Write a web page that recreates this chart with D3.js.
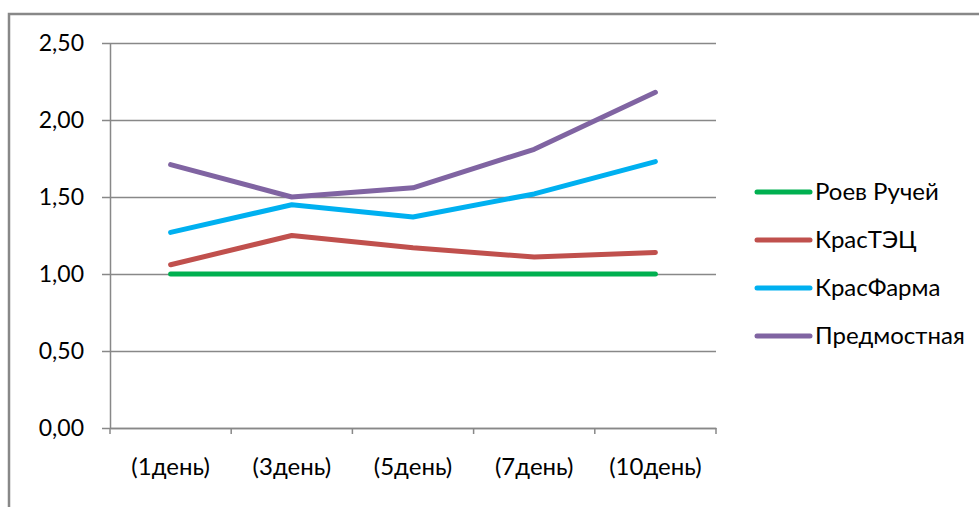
<!DOCTYPE html>
<html><head><meta charset="utf-8">
<script src="https://cdn.jsdelivr.net/npm/d3@7"></script>
<style>body{margin:0;background:#fff;} svg{display:block;font-family:Lato,sans-serif;}</style>
</head><body><svg id="c" width="979" height="507"></svg>
<script>
const categories = ["(1день)","(3день)","(5день)","(7день)","(10день)"];
const seriesNames = ["Роев Ручей","КрасТЭЦ","КрасФарма","Предмостная"];
const roev = [1.00,1.00,1.00,1.00,1.00];
const krasTEC = [1.06,1.25,1.17,1.11,1.14];
const krasFarma = [1.27,1.45,1.37,1.52,1.73];
const predmost = [1.71,1.50,1.56,1.81,2.18];
const yTicks = [0,0.5,1,1.5,2,2.5];
const colors = ["#00B050","#C0504D","#00B0F0","#8064A2"];
const series = [roev,krasTEC,krasFarma,predmost];
const FS = 24, FF = "Lato";

const svg = d3.select("#c");
svg.append("rect").attr("x",9).attr("y",14).attr("width",1000).attr("height",1000)
  .attr("fill","none").attr("stroke","#888").attr("stroke-width",2.5);

const L=110,R=716,T=43,B=428;
const x = d3.scaleBand().domain(categories).range([L,R]).padding(0);
const y = d3.scaleLinear().domain([0,2.5]).range([B,T]);
const fmt = d=>d.toFixed(2).replace(".",",");

const ya = svg.append("g").attr("transform",`translate(${L},0)`)
  .call(d3.axisLeft(y).tickValues(yTicks).tickSize(8).tickSizeOuter(0).tickFormat(fmt));
ya.attr("font-size",23).attr("font-family",FF);
ya.select(".domain").attr("stroke","#888").attr("stroke-width",1.5);
ya.selectAll(".tick line").attr("stroke","#888").attr("stroke-width",1.5).attr("x2",R-L).attr("x1",-8);
ya.selectAll(".tick text").attr("x",-26).attr("fill","#000");

const xa = svg.append("g").attr("transform",`translate(0,${B})`)
  .call(d3.axisBottom(x).tickSize(0).tickSizeOuter(0));
xa.attr("font-size",FS).attr("font-family",FF);
xa.select(".domain").attr("stroke","#888").attr("stroke-width",1.5);
xa.selectAll(".tick text").attr("y",30).attr("fill","#000");
const bounds = categories.map(c=>x(c)).concat([R]);
svg.append("g").selectAll("line").data(bounds).join("line")
  .attr("x1",d=>d).attr("x2",d=>d).attr("y1",B).attr("y2",B+6)
  .attr("stroke","#888").attr("stroke-width",1.5);

const line = d3.line().x((d,i)=>x(categories[i])+x.bandwidth()/2).y(d=>y(d));
svg.append("g").selectAll("path").data(series).join("path")
  .attr("d",line).attr("fill","none").attr("stroke",(d,i)=>colors[i])
  .attr("stroke-width",5).attr("stroke-linecap","round").attr("stroke-linejoin","round");

const lg = svg.append("g").attr("font-size",FS).attr("font-family",FF)
  .selectAll("g").data(seriesNames).join("g")
  .attr("transform",(d,i)=>`translate(757,${192+i*48})`);
lg.append("line").attr("x1",0).attr("x2",53).attr("stroke",(d,i)=>colors[i])
  .attr("stroke-width",5).attr("stroke-linecap","round");
lg.append("text").attr("x",58).attr("dy","0.35em").text(d=>d);
</script></body></html>
